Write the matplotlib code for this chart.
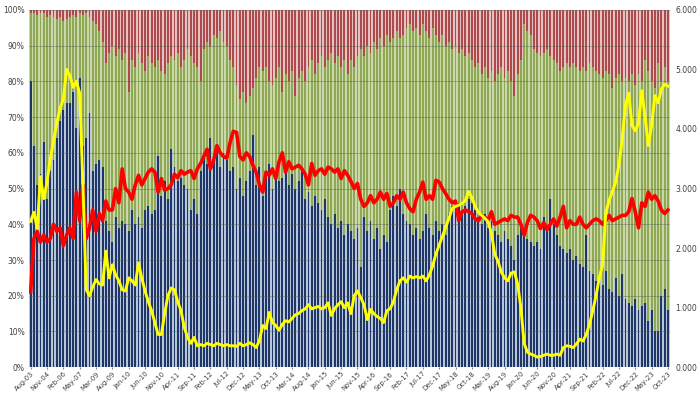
import numpy as np
import matplotlib
matplotlib.use("Agg")
import matplotlib.pyplot as plt

# ---------------- data ----------------
tick_labels = ["Aug-03", "Nov-04", "Feb-06", "May-07", "Mar-09", "Aug-09", "Jan-10", "Jun-10",
               "Nov-10", "Apr-11", "Sep-11", "Feb-12", "Jul-12", "Dec-12", "May-13", "Oct-13",
               "Mar-14", "Aug-14", "Jan-15", "Jun-15", "Nov-15", "Apr-16", "Sep-16", "Feb-17",
               "Jul-17", "Dec-17", "May-18", "Oct-18", "Mar-19", "Aug-19", "Jan-20", "Jun-20",
               "Nov-20", "Apr-21", "Sep-21", "Feb-22", "Jul-22", "Dec-22", "May-23", "Oct-23"]

# bottom segment (blue), % of total
blue_share = [
    80, 62, 51, 54, 63, 47, 55, 58, 64, 69,
    72, 74, 74, 77, 67, 81, 62, 64, 71, 55,
    57, 58, 56, 41, 38, 35, 42, 39, 41, 40,
    38, 44, 40, 42, 39, 44, 45, 43, 44, 59,
    48, 52, 47, 61, 56, 52, 53, 51, 50, 44,
    47, 43, 55, 60, 57, 64, 58, 61, 56, 60,
    58, 55, 56, 50, 53, 48, 52, 55, 65, 51,
    56, 48, 53, 57, 50, 54, 52, 53, 55, 51,
    54, 50, 52, 55, 47, 49, 45, 48, 46, 44,
    47, 42, 40, 43, 39, 41, 37, 40, 38, 36,
    39, 28, 42, 38, 41, 36, 39, 33, 37, 35,
    44, 48, 45, 50, 43, 41, 40, 37, 39, 36,
    38, 43, 39, 37, 41, 38, 40, 37, 43, 45,
    44, 46, 43, 45, 47, 46, 44, 42, 40, 43,
    39, 41, 38, 37, 35, 38, 36, 34, 30, 37,
    39, 39, 36, 35, 34, 35, 33, 42, 38, 47,
    40, 37, 34, 33, 32, 33, 30, 31, 29, 28,
    37, 27, 26, 24, 25, 23, 27, 22, 21, 25,
    20, 26, 19, 18, 17, 19, 16, 17, 18, 13,
    16, 10, 10, 20, 22, 16]

# cumulative top of the middle segment (blue + green), %
green_top = [
    99, 99, 98.5, 99, 99, 98, 98.5, 98, 97.5, 98,
    97, 97.5, 98, 98.5, 98, 99, 98.5, 99, 98, 97,
    96, 94, 91, 85, 88, 90, 87, 89, 86, 88,
    77, 86, 84, 88, 85, 83, 87, 85, 84, 86,
    83, 82, 85, 87, 86, 88, 84, 86, 89, 87,
    85, 84, 80, 89, 91, 90, 93, 92, 94, 91,
    90, 86, 84, 79, 75, 77, 74, 76, 78, 81,
    84, 83, 84, 80, 79, 81, 84, 77, 82, 80,
    83, 76, 81, 83, 80, 84, 86, 82, 85, 87,
    84, 86, 88, 85, 87, 84, 86, 82, 86, 84,
    87, 89, 87, 90, 88, 91, 89, 92, 90, 93,
    91, 92, 94, 92, 93, 95, 96, 94, 95, 93,
    96, 94, 92, 95, 93, 91, 93, 90, 91, 89,
    90, 88, 89, 87, 88, 86, 84, 85, 82, 84,
    81, 83, 80, 82, 84, 81, 83, 80, 76, 82,
    86, 96, 94, 93, 89, 88, 87, 88, 89, 87,
    86, 85, 83, 84, 85, 84, 85, 84, 83, 84,
    83, 85, 84, 83, 82, 81, 83, 82, 78, 81,
    82, 80, 81, 80, 82, 79, 82, 80, 86, 83,
    80, 78, 85, 80, 84, 80]

# red line, left axis (%)
red_line = [
    21, 36, 38, 35, 37, 35, 36, 40, 38, 39,
    34, 37, 39, 36, 49, 41, 51, 36, 39, 44,
    38, 43, 41, 46.5, 44, 44, 50, 46, 55.5, 50,
    49, 47, 51, 53.7, 51, 52.8, 54.6, 55.5, 54.6, 49,
    52.8, 49.5, 50, 51, 54, 53, 55, 54, 54.6, 55,
    52.8, 55.5, 57, 59, 61, 55.5, 58, 62, 60, 59,
    58.5, 62.8, 66, 65.7, 59, 58, 60, 59, 56.5, 54.6,
    51, 49, 54.6, 53.7, 55.5, 52.8, 57.5, 60, 54.6, 57.5,
    55.5, 56, 56.5, 55.5, 54, 51, 57, 53.7, 55, 55.5,
    54, 56, 55.5, 54.6, 55.5, 52.8, 55, 53.7, 52, 50,
    51.4, 47, 45, 46, 48, 46, 47, 49, 47, 48.6,
    45, 46, 48, 47, 49, 46, 44.4, 43.5, 47, 49,
    51.8, 47, 48, 47, 52.3, 51.8, 50, 48.6, 47, 46,
    46.5, 41, 43.5, 44, 43.5, 43, 41.5, 41, 42.5, 42,
    41, 43.5, 40, 40.5, 41, 41.5, 41, 42.5, 42, 42,
    40, 37, 40.5, 42.5, 42, 41, 38.8, 40.5, 38.5, 40,
    41.5, 39.5, 42, 45, 39, 41, 40, 40, 42, 40,
    39, 40, 41, 41.5, 41, 40, 41, 42.5, 41, 41.5,
    42, 42.5, 42.5, 43.5, 47.2, 43.5, 39, 46, 45, 49,
    47, 48, 46.5, 44, 43, 44]

# yellow line, right axis
yellow_line = [
    2.45, 2.6, 2.33, 3.2, 2.83, 3.1, 3.5, 3.8, 4.1, 4.35,
    4.5, 5.0, 4.9, 4.7, 4.8, 4.6, 3.05, 1.3, 1.2, 1.35,
    1.47, 1.4, 1.38, 1.95, 1.5, 1.72, 1.55, 1.45, 1.3, 1.28,
    1.5, 1.45, 1.38, 1.75, 1.5, 1.28, 1.1, 0.95, 0.75, 0.55,
    0.55, 0.9, 1.2, 1.33, 1.3, 1.1, 0.95, 0.67, 0.5, 0.4,
    0.5, 0.36, 0.38, 0.36, 0.4, 0.38, 0.36, 0.4, 0.38, 0.36,
    0.38, 0.36, 0.36, 0.35, 0.4, 0.36, 0.38, 0.41, 0.38, 0.33,
    0.45, 0.7, 0.65, 0.92, 0.75, 0.7, 0.62, 0.72, 0.78, 0.76,
    0.82, 0.88, 0.9, 0.95, 0.98, 1.05, 0.98, 1.0, 1.02, 0.98,
    1.0, 1.08, 0.87, 0.98, 1.05, 1.1, 1.0, 1.08, 0.9, 1.2,
    1.28, 1.17, 1.05, 0.8, 0.97, 0.9, 0.85, 0.82, 0.75, 0.95,
    0.98, 1.1, 1.3, 1.45, 1.5, 1.43, 1.53, 1.5, 1.52, 1.5,
    1.53, 1.45, 1.55, 1.7, 1.9, 2.05, 2.2, 2.35, 2.5, 2.67,
    2.7, 2.72, 2.75, 2.8, 2.95, 2.85, 2.7, 2.6, 2.55, 2.5,
    2.44, 2.25, 1.9, 1.78, 1.6, 1.5, 1.45, 1.58, 1.6, 1.4,
    1.0, 0.4, 0.25, 0.22, 0.2, 0.17, 0.18, 0.2, 0.22, 0.2,
    0.2, 0.22, 0.2, 0.33, 0.36, 0.35, 0.33, 0.39, 0.47, 0.44,
    0.55, 0.72, 0.95, 1.2, 1.5, 1.72, 2.6, 2.8, 2.95, 3.11,
    3.39, 3.83, 4.4, 4.6, 4.06, 3.97, 4.1, 4.64, 4.2, 3.72,
    4.06, 4.56, 4.44, 4.67, 4.75, 4.72]

# ---------------- drawing ----------------
n = min(len(blue_share), len(green_top), len(red_line), len(yellow_line))
blue = np.array(blue_share[:n], float)
gtop = np.array(green_top[:n], float)
green = gtop - blue
red = 100.0 - gtop
x = np.arange(n)

fig = plt.figure(figsize=(7.0, 3.94), dpi=100)
ax = fig.add_axes([0.041, 0.068, 0.916, 0.907])
ax.set_xlim(-0.6, n - 0.4)
ax.set_ylim(0, 100)

# light under-layer (the pale gaps between bars)
ax.bar(x, blue, width=1.0, color="#b9c6da", linewidth=0, zorder=1)
ax.bar(x, green, bottom=blue, width=1.0, color="#cbd8aa", linewidth=0, zorder=1)
ax.bar(x, red, bottom=gtop, width=1.0, color="#e6c2c2", linewidth=0, zorder=1)
# dark bars
ax.bar(x, blue, width=0.58, color="#1f3766", linewidth=0, zorder=1.5)
ax.bar(x, green, bottom=blue, width=0.58, color="#8fa856", linewidth=0, zorder=1.5)
ax.bar(x, red, bottom=gtop, width=0.58, color="#ad4a4c", linewidth=0, zorder=1.5)

ax.set_yticks(np.arange(0, 101, 10))
ax.set_yticklabels([f"{v}%" for v in range(0, 101, 10)])
ax.yaxis.grid(True, color="#555555", linewidth=0.5, alpha=0.55, zorder=2)
ax.set_axisbelow(False)

ax.plot(x, red_line[:n], color="#ff0000", linewidth=2.6, zorder=3, solid_joinstyle="round")

ax.set_xticks(np.arange(0, n, 5))
ax.set_xticklabels(tick_labels[:len(np.arange(0, n, 5))], rotation=45, ha="right",
                   rotation_mode="anchor", fontsize=4.9, color="#404040")
ax.tick_params(axis="x", length=1.5, pad=1.0, color="#888888")
ax.tick_params(axis="y", length=0, labelsize=5.5, labelcolor="#404040", pad=3)

ax2 = ax.twinx()
ax2.set_ylim(0, 6)
ax2.plot(x, yellow_line[:n], color="#ffff00", linewidth=2.1, zorder=3, solid_joinstyle="round")
ax2.set_yticks(np.arange(0, 7, 1))
ax2.set_yticklabels([f"{v:.3f}" for v in range(0, 7)])
ax2.tick_params(axis="y", length=0, labelsize=5.5, labelcolor="#404040", pad=4)

for a in (ax, ax2):
    for s in a.spines.values():
        s.set_visible(False)

fig.savefig("out.png", dpi=100, facecolor="white")
